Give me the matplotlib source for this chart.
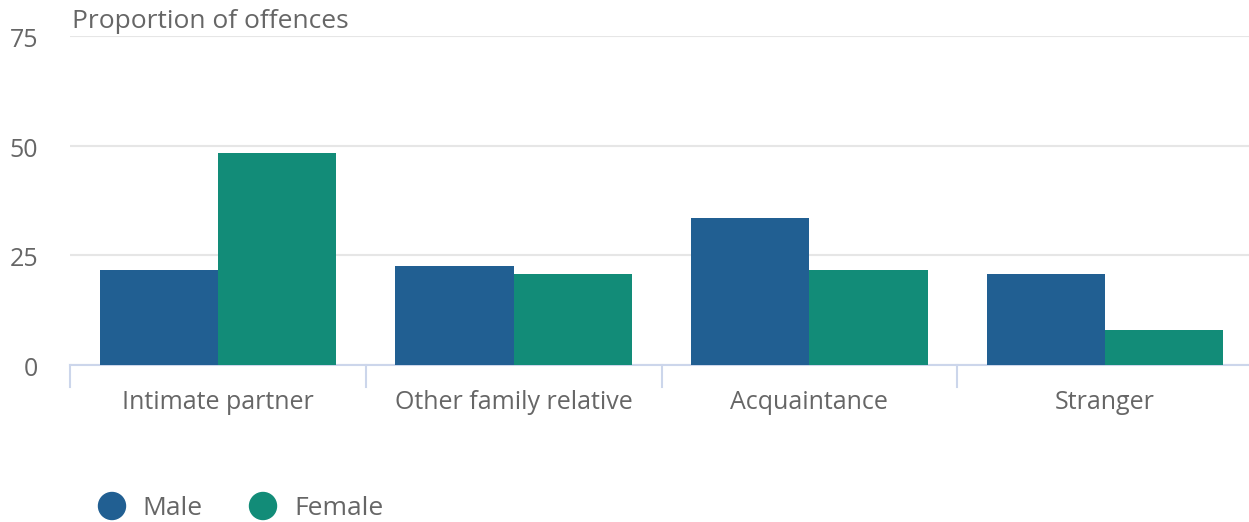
import matplotlib.pyplot as plt
from matplotlib.patches import Ellipse
from matplotlib.transforms import ScaledTranslation
import numpy as np

plt.rcParams['font.family'] = ['Open Sans', 'DejaVu Sans']

categories = ['Intimate partner', 'Other family relative', 'Acquaintance', 'Stranger']
male = [21.7, 22.6, 33.5, 20.7]
female = [48.3, 20.7, 21.7, 8.0]
yticks = [0, 25, 50, 75]

blue = '#215f92'
teal = '#128c78'
grey = '#666666'

W, H = 1249, 522
fig = plt.figure(figsize=(W / 100, H / 100), dpi=100)
# plot area in pixels: x 70..1253, y 36..365 (from top)
ax = fig.add_axes([70 / W, (H - 365) / H, 1183 / W, 329 / H])

x = np.arange(len(categories))
bw = 0.4
ax.bar(x - bw / 2, male, bw, color=blue, label='Male', zorder=3)
ax.bar(x + bw / 2, female, bw, color=teal, label='Female', zorder=3)

ax.set_xlim(-0.5, len(categories) - 0.5)
ax.set_ylim(0, 75)
ax.set_yticks(yticks)
ax.set_yticklabels([str(v) for v in yticks], fontsize=18, color=grey)
ax.tick_params(axis='y', length=0, pad=23)
shift = ScaledTranslation(0, -4.5 / 100, fig.dpi_scale_trans)
for lbl in ax.get_yticklabels():
    lbl.set_verticalalignment('center')
    lbl.set_transform(lbl.get_transform() + shift)
ax.yaxis.grid(True, color='#e6e6e6', linewidth=1.5, zorder=0)

ax.set_xticks(x)
ax.set_xticklabels(categories, fontsize=18, color=grey)
ax.tick_params(axis='x', length=0, pad=18)
# category boundary ticks
for b in np.arange(-0.5, len(categories), 1.0):
    ax.plot([b, b], [0, -5], color='#ccd6eb', linewidth=1.5, clip_on=False, zorder=4)

for s in ['top', 'right', 'left']:
    ax.spines[s].set_visible(False)
ax.spines['bottom'].set_color('#ccd6eb')
ax.spines['bottom'].set_linewidth(1.5)

fig.text(72 / W, (H - 22) / H, 'Proportion of offences', fontsize=19, color=grey,
         va='center', ha='left')

# legend
fig.patches.append(Ellipse((112 / W, (H - 506) / H), 27 / W, 27 / H,
                           transform=fig.transFigure, color=blue))
fig.text(142 / W, (H - 515) / H, 'Male', fontsize=19, color=grey, va='baseline')
fig.patches.append(Ellipse((263 / W, (H - 506) / H), 27 / W, 27 / H,
                           transform=fig.transFigure, color=teal))
fig.text(294 / W, (H - 515) / H, 'Female', fontsize=19, color=grey, va='baseline')

fig.savefig('out.png', dpi=100)
